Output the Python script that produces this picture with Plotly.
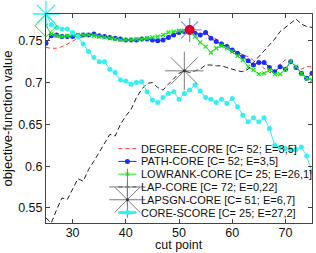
import plotly.graph_objects as go

# ---------------- data ----------------
cut_points = list(range(25, 76))

degree_core = [0.742, 0.741, 0.741, 0.743, 0.746, 0.750, 0.753, 0.755, 0.757, 0.757,
               0.756, 0.755, 0.754, 0.753, 0.752, 0.751, 0.751, 0.751, 0.752, 0.752,
               0.751, 0.751, 0.752, 0.755, 0.758, 0.760, 0.762, 0.763, 0.760, 0.758,
               0.757, 0.755, 0.752, 0.748, 0.744, 0.740, 0.736, 0.733, 0.731, 0.727,
               0.722, 0.717, 0.712, 0.712, 0.722, 0.727, 0.724, 0.720, 0.716, 0.719,
               0.719]

path_core = [0.747, 0.756, 0.757, 0.755, 0.755, 0.755, 0.756, 0.757, 0.757, 0.758,
             0.756, 0.755, 0.754, 0.753, 0.752, 0.751, 0.751, 0.751, 0.752, 0.752,
             0.751, 0.750, 0.751, 0.754, 0.757, 0.760, 0.761, 0.763, 0.759, 0.757,
             0.760, 0.753, 0.749, 0.746, 0.743, 0.739, 0.735, 0.731, 0.726, 0.721,
             0.724, 0.724, 0.718, 0.713, 0.719, 0.716, 0.725, 0.718, 0.711, 0.705,
             0.711]

lowrank_core = [0.768, 0.758, 0.756, 0.755, 0.756, 0.757, 0.757, 0.757, 0.757, 0.756,
                0.755, 0.754, 0.753, 0.752, 0.751, 0.751, 0.751, 0.752, 0.752, 0.753,
                0.754, 0.755, 0.757, 0.760, 0.761, 0.762, 0.762, 0.761, 0.755, 0.748,
                0.743, 0.736, 0.741, 0.744, 0.741, 0.737, 0.732, 0.727, 0.719, 0.715,
                0.710, 0.711, 0.715, 0.710, 0.710, 0.716, 0.725, 0.719, 0.711, 0.705,
                0.703]

lap_core = [0.538, 0.532, 0.548, 0.562, 0.560, 0.572, 0.585, 0.582, 0.596, 0.606,
            0.617, 0.628, 0.638, 0.636, 0.650, 0.660, 0.668, 0.682, 0.692, 0.699,
            0.700, 0.694, 0.691, 0.698, 0.705, 0.711, 0.714, 0.712, 0.714, 0.716,
            0.721, 0.721, 0.720, 0.720, 0.718, 0.716, 0.714, 0.713, 0.716, 0.724,
            0.731, 0.737, 0.745, 0.752, 0.761, 0.766, 0.772, 0.776, 0.770, 0.767,
            0.766]

core_score = [0.782, 0.769, 0.766, 0.764, 0.764, 0.760, 0.755, 0.746, 0.737, 0.730,
              0.725, 0.725, 0.716, 0.712, 0.703, 0.702, 0.698, 0.700, 0.701, 0.689,
              0.679, 0.676, 0.682, 0.687, 0.689, 0.680, 0.687, 0.691, 0.697, 0.690,
              0.682, 0.680, 0.676, 0.680, 0.675, 0.681, 0.671, 0.661, 0.653, 0.658,
              0.653, 0.658, 0.645, 0.625, 0.622, 0.621, 0.620, 0.620, 0.623, 0.612,
              0.593]

legend_labels = ["DEGREE-CORE [C= 52; E=3,5]",
                 "PATH-CORE [C= 52; E=3,5]",
                 "LOWRANK-CORE [C= 25; E=26,1]",
                 "LAP-CORE [C= 72; E=0,22]",
                 "LAPSGN-CORE [C= 51; E=6,7]",
                 "CORE-SCORE [C= 25; E=27,2]"]

# chosen cut points (C values)
c_degree, c_path, c_lowrank, c_lapsgn, c_score = 52, 52, 25, 51, 25

x_ticks = [30, 40, 50, 60, 70]
y_ticks = [0.55, 0.6, 0.65, 0.7, 0.75]
y_tick_text = ["0.55", "0.6", "0.65", "0.7", "0.75"]
x_title = "cut point"
y_title = "objective-function value"

# ---------------- styles ----------------
RED = "#ff3b3b"
BLUE = "#1a2cff"
GREEN = "#19e619"
BLACK = "#222222"
GRAY = "#7a7a7a"
CYAN = "#33f0f5"
FONT = "Liberation Sans, Arial, Helvetica, sans-serif"

fig = go.Figure()

def val_at(series, c):
    return series[cut_points.index(c)]

def open_marker(symbol, size, color, width=1.0):
    # for "-open" symbols plotly strokes with marker.color
    return dict(symbol=symbol, size=size, color=color, line=dict(color=color, width=width))

fig.add_trace(go.Scatter(x=cut_points, y=degree_core, mode="lines",
                         line=dict(color=RED, width=1, dash="4px,3px"), showlegend=False))
fig.add_trace(go.Scatter(x=cut_points, y=path_core, mode="lines+markers",
                         line=dict(color=BLUE, width=1),
                         marker=dict(color=BLUE, size=5, symbol="circle"), showlegend=False))
fig.add_trace(go.Scatter(x=cut_points, y=lowrank_core, mode="lines+markers",
                         line=dict(color=GREEN, width=1),
                         marker=open_marker("x-thin-open", 4, GREEN, 1.2), showlegend=False))
fig.add_trace(go.Scatter(x=cut_points, y=lap_core, mode="lines",
                         line=dict(color=BLACK, width=1, dash="5px,3px"), showlegend=False))
fig.add_trace(go.Scatter(x=cut_points, y=core_score, mode="lines+markers",
                         line=dict(color=CYAN, width=1),
                         marker=dict(color=CYAN, size=5, symbol="circle"), showlegend=False))

# highlighted chosen cut points
fig.add_trace(go.Scatter(x=[c_lapsgn], y=[val_at(lap_core, c_lapsgn)], mode="markers",
                         marker=open_marker("asterisk-open", 32, GRAY, 1),
                         cliponaxis=False, showlegend=False))
fig.add_trace(go.Scatter(x=[c_lapsgn], y=[val_at(lap_core, c_lapsgn)], mode="markers",
                         marker=dict(symbol="circle", size=3, color="#333333"),
                         cliponaxis=False, showlegend=False))
fig.add_trace(go.Scatter(x=[c_path], y=[val_at(path_core, c_path)], mode="markers",
                         marker=open_marker("asterisk-open", 20, "#8c8cff", 1.3),
                         cliponaxis=False, showlegend=False))
fig.add_trace(go.Scatter(x=[c_degree], y=[val_at(degree_core, c_degree)], mode="markers",
                         marker=dict(symbol="circle", size=9, color="#e0002a",
                                     line=dict(color="#c00020", width=1)),
                         cliponaxis=False, showlegend=False))
fig.add_trace(go.Scatter(x=[c_lowrank], y=[val_at(lowrank_core, c_lowrank)], mode="markers",
                         marker=open_marker("diamond-open", 17, GREEN, 1),
                         cliponaxis=False, showlegend=False))
fig.add_trace(go.Scatter(x=[c_score], y=[val_at(core_score, c_score)], mode="markers",
                         marker=open_marker("asterisk-open", 22, CYAN, 1.3),
                         cliponaxis=False, showlegend=False))

# ---------------- compact legend (inside, lower right) ----------------
LEG_X0, LEG_X1, LEG_TX = 0.272, 0.340, 0.350
LEG_Y0, LEG_DY = 0.356, 0.0612
leg_styles = [
    dict(color=RED, dash="4px,3px", lw=1, sym=None),
    dict(color=BLUE, dash="solid", lw=1, sym=("circle", 5, BLUE)),
    dict(color=GREEN, dash="solid", lw=1, sym=("x-thin-open", 4, GREEN)),
    dict(color=BLACK, dash="4px,3px", lw=1, sym=("cross-thin-open", 26, GRAY)),
    dict(color=None, dash=None, lw=0, sym=("asterisk-open", 30, GRAY)),
    dict(color=CYAN, dash="solid", lw=3, sym=("circle", 5, CYAN)),
]
for i, (label, st) in enumerate(zip(legend_labels, leg_styles)):
    yy = LEG_Y0 - i * LEG_DY
    xm = (LEG_X0 + LEG_X1) / 2
    if st["color"]:
        fig.add_trace(go.Scatter(x=[LEG_X0, LEG_X1], y=[yy, yy], mode="lines",
                                 xaxis="x2", yaxis="y2",
                                 line=dict(color=st["color"], width=st["lw"], dash=st["dash"]),
                                 cliponaxis=False, showlegend=False, hoverinfo="skip"))
    if st["sym"]:
        s, sz, c = st["sym"]
        mk = open_marker(s, sz, c, 1) if s.endswith("-open") else dict(symbol=s, size=sz, color=c)
        fig.add_trace(go.Scatter(x=[xm], y=[yy], mode="markers", xaxis="x2", yaxis="y2",
                                 marker=mk, cliponaxis=False, showlegend=False,
                                 hoverinfo="skip"))
        if s == "asterisk-open":
            fig.add_trace(go.Scatter(x=[xm], y=[yy], mode="markers", xaxis="x2", yaxis="y2",
                                     marker=dict(symbol="circle", size=3, color="#333333"),
                                     cliponaxis=False, showlegend=False, hoverinfo="skip"))
    fig.add_annotation(x=LEG_TX, y=yy, xref="x2", yref="y2", text=label,
                       showarrow=False, xanchor="left", yanchor="middle",
                       font=dict(family=FONT, size=11, color="#111111"))

# x-axis title placed just below the tick labels (bottom edge of the canvas)
fig.add_annotation(x=0.5, y=-0.1435, xref="paper", yref="paper", text=x_title,
                   showarrow=False, xanchor="center", yanchor="bottom", borderpad=0,
                   font=dict(family=FONT, size=12.5, color="#111111"))

axis_common = dict(showgrid=False, zeroline=False, showline=True, linecolor="#444444",
                   linewidth=1, mirror="ticks", ticks="inside", ticklen=4, automargin=False,
                   tickcolor="#444444", tickfont=dict(family=FONT, size=12.5, color="#111111"))

fig.update_layout(
    width=316, height=253,
    margin=dict(l=46, r=4, t=14, b=30),
    paper_bgcolor="white", plot_bgcolor="white",
    showlegend=False,
    font=dict(family=FONT, color="#111111"),
    xaxis=dict(range=[25, 75], tickvals=x_ticks, ticklabelstandoff=-2, **axis_common),
    yaxis=dict(range=[0.532, 0.782], tickvals=y_ticks, ticktext=y_tick_text,
               title=dict(text=y_title, font=dict(family=FONT, size=13), standoff=2),
               **axis_common),
    xaxis2=dict(overlaying="x", range=[0, 1], visible=False, automargin=False),
    yaxis2=dict(overlaying="y", range=[0, 1], visible=False, automargin=False),
)

fig.write_html("out.html", config={"displayModeBar": False},
               post_script="document.body.style.margin='0';")
